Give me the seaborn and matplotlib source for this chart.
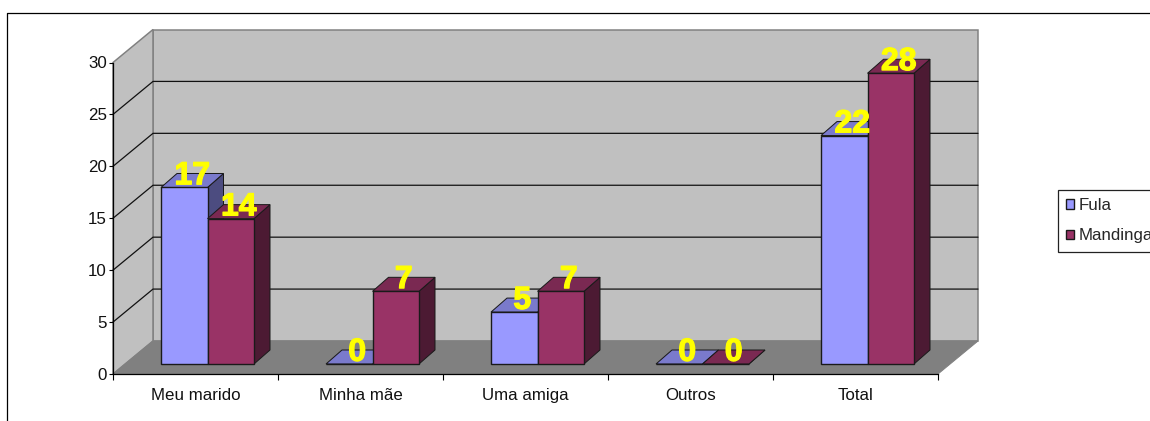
import matplotlib
matplotlib.use("Agg")
import matplotlib.pyplot as plt
import matplotlib.patheffects as pe
from matplotlib.lines import Line2D
from matplotlib.patches import Polygon
from matplotlib.transforms import Affine2D
import pandas as pd
import seaborn as sns

categories = ["Meu marido", "Minha mãe", "Uma amiga", "Outros", "Total"]
fula = [17, 0, 5, 0, 22]
mandinga = [14, 7, 7, 0, 28]
y_ticks = [0, 5, 10, 15, 20, 25, 30]

FRONT = {"Fula": "#9999FF", "Mandinga": "#993366"}
TOP = {"Fula": "#7A7ACC", "Mandinga": "#7A2952"}
SIDE = {"Fula": "#4C4C80", "Mandinga": "#4C1A33"}
WALL, FLOOR, EDGE = "#C0C0C0", "#808080", "#1A1A1A"

df = pd.DataFrame({
    "categoria": categories * 2,
    "valor": fula + mandinga,
    "grupo": ["Fula"] * 5 + ["Mandinga"] * 5,
})

sns.set_theme(style="white")
plt.rcParams["font.family"] = ["Liberation Sans", "DejaVu Sans"]

W, H = 1150, 421
fig = plt.figure(figsize=(W / 100, H / 100), dpi=100, facecolor="white")
ax = fig.add_axes([113 / W, (H - 374) / H, 825 / W, 311.5 / H])

sns.barplot(data=df, x="categoria", y="valor", hue="grupo", palette=FRONT,
            width=0.5636, gap=0, saturation=1, edgecolor=EDGE, linewidth=1,
            ax=ax)
ax.set_xlim(-0.5, 4.5)
ax.set_ylim(0, 30)
ax.set_xlabel("")
ax.set_ylabel("")

# Oblique projection, in data units per axis
wall_dx, wall_dy = 40 / 165, 33 / (311.5 / 30)
base_dx, base_dy = 12 / 165, 10 / (311.5 / 30)
bar_dx, bar_dy = 16 / 165, 14 / (311.5 / 30)
x0, x1 = -0.5, 4.5
y_top = 30


def face(points, color, z, edge=EDGE, lw=1.0):
    ax.add_patch(Polygon(points, closed=True, facecolor=color, edgecolor=edge,
                         linewidth=lw * 0.72, clip_on=False, zorder=z))


# Chart walls and floor
face([(x0 + wall_dx, wall_dy), (x1 + wall_dx, wall_dy),
      (x1 + wall_dx, y_top + wall_dy), (x0 + wall_dx, y_top + wall_dy)],
     WALL, 0.1, edge=FLOOR, lw=1.5)
face([(x0, 0), (x0 + wall_dx, wall_dy), (x0 + wall_dx, y_top + wall_dy), (x0, y_top)],
     WALL, 0.1, edge=FLOOR, lw=1.5)
for tick in y_ticks[1:-1]:
    ax.plot([x0, x0 + wall_dx, x1 + wall_dx], [tick, tick + wall_dy, tick + wall_dy],
            color="#111111", lw=0.9, clip_on=False, zorder=0.2)
face([(x0, 0), (x1, 0), (x1 + wall_dx, wall_dy), (x0 + wall_dx, wall_dy)],
     FLOOR, 0.3, edge=FLOOR)

# Bars: the fronts come from seaborn, the tops and sides are extruded from them
shift = Affine2D().translate(base_dx, base_dy) + ax.transData
labels = []
order = 3
for idx in range(len(categories)):
    for group, container in zip(FRONT, ax.containers):
        rect = container[idx]
        left, right = rect.get_x(), rect.get_x() + rect.get_width()
        value = rect.get_height()
        xl, xr = left + base_dx, right + base_dx
        yb, yt = base_dy, value + base_dy
        face([(xr, yb), (xr + bar_dx, yb + bar_dy), (xr + bar_dx, yt + bar_dy), (xr, yt)],
             SIDE[group], order)
        face([(xl, yt), (xr, yt), (xr + bar_dx, yt + bar_dy), (xl + bar_dx, yt + bar_dy)],
             TOP[group], order + 0.1)
        rect.set_transform(shift)
        rect.set_clip_on(False)
        rect.set_zorder(order + 0.2)
        order += 1
        labels.append(((xl + xr) / 2 + bar_dx / 2, yt + bar_dy, value))

# Value labels in heavy yellow type
for x, y, value in labels:
    ax.annotate(f"{value:.0f}", (x, y), xytext=(0, -2.0), textcoords="offset points",
                ha="center", va="center", color="#FFFF00",
                fontsize=23, fontweight="bold", annotation_clip=False, zorder=100,
                path_effects=[pe.withStroke(linewidth=0.9, foreground="#FFFF00")])

# Axes
for name in ("top", "right"):
    ax.spines[name].set_visible(False)
for name in ("left", "bottom"):
    ax.spines[name].set_color("black")
    ax.spines[name].set_linewidth(0.9)
    ax.spines[name].set_zorder(2.5)
ax.set_yticks(y_ticks)
ax.set_xticks(range(len(categories)), categories)
ax.set_xticks([i - 0.5 for i in range(len(categories) + 1)], minor=True)
ax.tick_params(axis="x", which="major", length=0, pad=10, labelsize=12.2, labelcolor="#111111")
ax.tick_params(axis="x", which="minor", length=4, width=0.8, color="black", bottom=True)
ax.tick_params(axis="y", length=3, width=0.8, color="black", left=True, pad=1.5,
               labelsize=12.2, labelcolor="#111111")

# Legend
handles, names = ax.get_legend_handles_labels()
legend = ax.legend(handles, names, loc="upper left", bbox_to_anchor=(1058 / W, (H - 190) / H),
                   bbox_transform=fig.transFigure, borderaxespad=0, fontsize=12.2,
                   frameon=True, fancybox=False, framealpha=1, edgecolor="#222222",
                   handlelength=0.47, handleheight=0.47, handletextpad=0.25,
                   labelspacing=0.9, borderpad=0.48)
legend.get_frame().set_linewidth(0.9)
legend.set_zorder(200)

# Outer chart border
fig.add_artist(Line2D([6.5 / W, 6.5 / W, 1], [0, (H - 13) / H, (H - 13) / H],
                      color="black", lw=0.9, transform=fig.transFigure))

fig.savefig("out.png", dpi=100)
